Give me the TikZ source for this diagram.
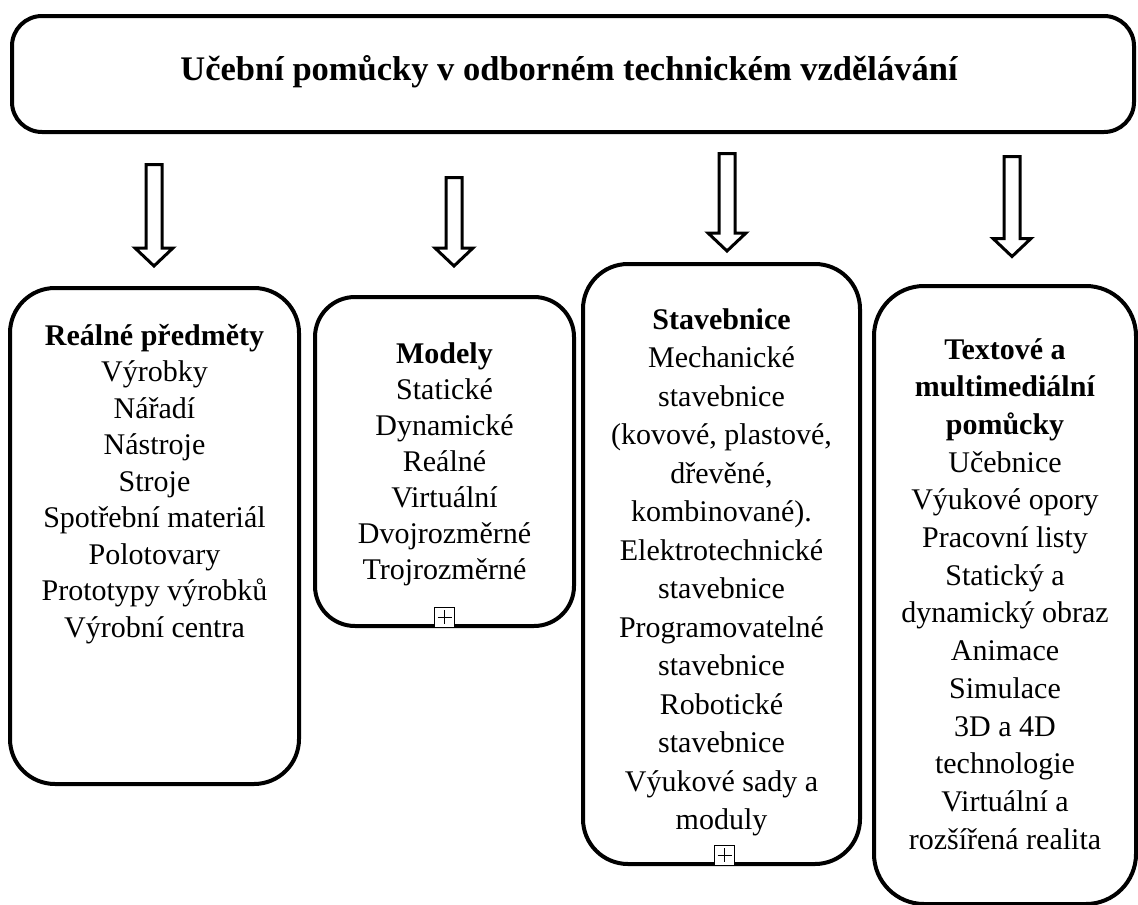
\documentclass[tikz,border=0pt]{standalone}
\usepackage{fontspec}
\setmainfont{Liberation Serif}
\usetikzlibrary{positioning}

\tikzset{
  panel/.style={draw, line width=4pt, rounded corners=#1, inner sep=0pt},
  panel/.default=45pt,
  pics/hollowarrow/.style={code={
    \draw[line width=3pt] (-8,0) -- (8,0) -- (8,#1-18) -- (19,#1-18) -- (0,#1)
      -- (-19,#1-18) -- (-8,#1-18) -- cycle;}},
  list/.style={align=center, anchor=north, inner sep=0pt,
    font=\fontsize{30}{#1}\selectfont},
  list/.default=36.5,
  plusbox/.style={draw, line width=1.4pt, fill=white, minimum size=20pt,
    inner sep=0pt, anchor=south,
    path picture={\draw[line width=1.4pt]
      ([xshift=3pt]path picture bounding box.west) -- ([xshift=-3pt]path picture bounding box.east)
      ([yshift=-3pt]path picture bounding box.north) -- ([yshift=3pt]path picture bounding box.south);}}
}

\begin{document}
\begin{tikzpicture}[x=1pt, y=-1pt]
  \useasboundingbox (0,0) rectangle (1138,905);

  % heading
  \node[panel=30pt, minimum width=1122pt, minimum height=116pt, anchor=north west] (head) at (10,14) {};
  \node[anchor=base, inner sep=0pt, font=\bfseries\fontsize{34.5}{36}\selectfont] (title) at (569,80)
    {Učební pomůcky v odborném technickém vzdělávání};

  % arrows
  \pic (arr1) at (154,164.5) {hollowarrow=101.5};
  \pic (arr2) at (454,177.5) {hollowarrow=88.5};
  \pic (arr3) at (727,153.5) {hollowarrow=97.5};
  \pic (arr4) at (1012,156.5) {hollowarrow=100};

  % boxes
  \node[panel, minimum width=289pt, minimum height=496pt, anchor=north west] (real) at (8,286) {};
  \node[panel=40pt, minimum width=259pt, minimum height=329pt, anchor=north west] (model) at (313,295) {};
  \node[panel, minimum width=277pt, minimum height=600pt, anchor=north west] (kit) at (581,262) {};
  \node[panel=50pt, minimum width=262pt, minimum height=618pt, anchor=north west] (media) at (872,284) {};

  % texts
  \node[list] (realtxt) at ([yshift=-38pt]real.north)
    {\textbf{Reálné předměty}\\Výrobky\\Nářadí\\Nástroje\\Stroje\\Spotřební materiál\\Polotovary\\Prototypy výrobků\\Výrobní centra};
  \node[list=36] (modeltxt) at ([yshift=-47pt]model.north)
    {\textbf{Modely}\\Statické\\Dynamické\\Reálné\\Virtuální\\Dvojrozměrné\\Trojrozměrné};
  \node[list=38.5] (kittxt) at ([yshift=-46pt]kit.north)
    {\textbf{Stavebnice}\\Mechanické\\stavebnice\\(kovové, plastové,\\dřevěné,\\kombinované).\\Elektrotechnické\\stavebnice\\Programovatelné\\stavebnice\\Robotické\\stavebnice\\Výukové sady a\\moduly};
  \node[list=37.7] (mediatxt) at ([yshift=-54pt]media.north)
    {\textbf{Textové a}\\\textbf{multimediální}\\\textbf{pomůcky}\\Učebnice\\Výukové opory\\Pracovní listy\\Statický a\\dynamický obraz\\Animace\\Simulace\\3D a 4D\\technologie\\Virtuální a\\rozšířená realita};

  % overflow markers
  \node[plusbox] (modelplus) at (model.south) {};
  \node[plusbox] (kitplus) at ([xshift=3pt]kit.south) {};
\end{tikzpicture}
\end{document}
